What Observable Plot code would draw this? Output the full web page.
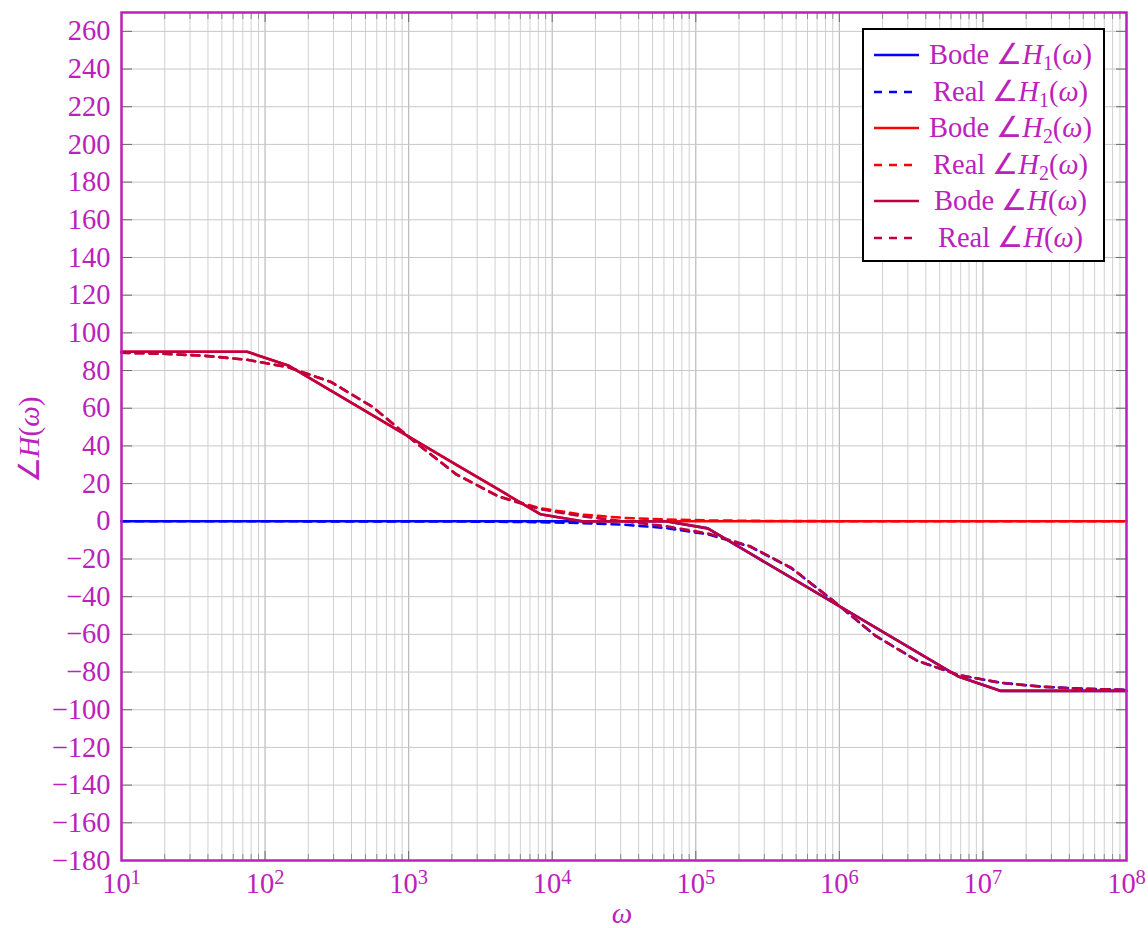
<!DOCTYPE html>
<html><head><meta charset="utf-8">
<script src="https://cdn.jsdelivr.net/npm/d3@7"></script>
<script src="https://cdn.jsdelivr.net/npm/@observablehq/plot@0.6"></script>
<style>
body{margin:0;background:#fff;}
#wrap{position:relative;width:1148px;height:928px;font-family:"Liberation Serif","Times New Roman",serif;color:#bb22bb;}
#legend{position:absolute;left:862px;top:28px;width:243px;height:234px;box-sizing:border-box;border:2.5px solid #000;background:#fff;}
.row{position:absolute;left:0;width:100%;height:36px;}
.row svg{position:absolute;left:8px;top:0;}
.row .txt{position:absolute;left:58px;right:4px;top:0;height:36px;line-height:36px;text-align:center;font-size:28.5px;white-space:nowrap;}
sub{font-size:0.7em;vertical-align:-0.28em;line-height:0;}
.lab{position:absolute;font-size:29px;white-space:nowrap;}
</style></head><body><div id="wrap"></div>
<script>
// sample frequencies (rad/s)
const omega = [10, 19.57, 38.31, 74.99, 146.8, 287.3, 562.3, 1101, 2154, 4217, 8254, 16160, 31620, 61900, 121200, 237100, 464200, 908500, 1778000, 3481000, 6813000, 13340000, 26100000, 51090000, 100000000];
// phase values (degrees)
const bodeH1 = [0,0,0,0,0,0,0,0,0,0,0,0,0,0,-3.75,-16.9,-30,-43.1,-56.25,-69.4,-82.5,-90,-90,-90,-90];
const realH1 = [0,0,0,0,-0.01,-0.02,-0.03,-0.06,-0.12,-0.24,-0.47,-0.93,-1.81,-3.54,-6.91,-13.34,-24.9,-42.25,-60.65,-73.97,-81.65,-85.71,-87.81,-88.88,-89.43];
const bodeH2 = [90,90,90,90,82.5,69.4,56.25,43.1,30,16.9,3.75,0,0,0,0,0,0,0,0,0,0,0,0,0,0];
const realH2 = [89.43,88.88,87.81,85.71,81.65,73.97,60.65,42.25,24.9,13.34,6.91,3.54,1.81,0.93,0.47,0.24,0.12,0.06,0.03,0.02,0.01,0,0,0,0];
const bodeH = [90,90,90,90,82.5,69.4,56.25,43.1,30,16.9,3.75,0,0,0,-3.75,-16.9,-30,-43.1,-56.25,-69.4,-82.5,-90,-90,-90,-90];
const realH = [89.43,88.88,87.81,85.71,81.64,73.95,60.62,42.19,24.78,13.1,6.44,2.61,0,-2.61,-6.44,-13.1,-24.78,-42.19,-60.62,-73.95,-81.64,-85.71,-87.81,-88.88,-89.43];
// ticks
const xTicks = [10, 100, 1000, 10000, 100000, 1000000, 10000000, 100000000];
const yTicks = [-180,-160,-140,-120,-100,-80,-60,-40,-20,0,20,40,60,80,100,120,140,160,180,200,220,240,260];
// series styling / legend
const seriesNames = ["Bode", "Real", "Bode", "Real", "Bode", "Real"];
const seriesSubs = ["1", "1", "2", "2", "", ""];
const seriesColors = ["#0000ff", "#0000ff", "#ff0000", "#ff0000", "#bf0040", "#bf0040"];
const seriesDashed = [false, true, false, true, false, true];
const seriesValues = [bodeH1, realH1, bodeH2, realH2, bodeH, realH];

const AXIS = "#bb22bb";
const minorTicks = [];
for (let i = 0; i < xTicks.length - 1; i++) for (let m = 2; m <= 9; m++) minorTicks.push(m * xTicks[i]);

const lineMarks = seriesValues.map((vals, i) => {
  const data = omega.map((w, j) => ({w, v: vals[j]}));
  return Plot.line(data, {x: "w", y: "v", stroke: seriesColors[i], strokeWidth: 2.6,
    strokeDasharray: seriesDashed[i] ? "8,6" : null, strokeLinejoin: "round"});
});

const tickOpts = (size, color) => ({tickSize: size, stroke: color, fill: "none", label: null});

const plot = Plot.plot({
  width: 1148, height: 928,
  marginLeft: 121, marginRight: 22, marginTop: 12, marginBottom: 68,
  style: {fontFamily: '"Liberation Serif","Times New Roman",serif', color: AXIS, background: "#fff"},
  x: {type: "log", domain: [10, 1e8], axis: null},
  y: {domain: [-180, 270], axis: null},
  marks: [
    Plot.gridX(minorTicks, {stroke: "#d0d0d0", strokeOpacity: 1, strokeWidth: 1}),
    Plot.gridX(xTicks, {stroke: "#bababa", strokeOpacity: 1, strokeWidth: 1.2}),
    Plot.gridY(yTicks, {stroke: "#c8c8c8", strokeOpacity: 1, strokeWidth: 1}),
    Plot.axisX(minorTicks, {anchor: "top", frameAnchor: "bottom", ...tickOpts(7, "#8a8a8a")}),
    Plot.axisX(minorTicks, {anchor: "bottom", frameAnchor: "top", ...tickOpts(7, "#8a8a8a")}),
    Plot.axisX(xTicks, {anchor: "top", frameAnchor: "bottom", ...tickOpts(10, "#6a6a6a")}),
    Plot.axisX(xTicks, {anchor: "bottom", frameAnchor: "top", ...tickOpts(10, "#6a6a6a")}),
    Plot.axisY(yTicks, {anchor: "right", frameAnchor: "left", ...tickOpts(10, "#6a6a6a")}),
    Plot.axisY(yTicks, {anchor: "left", frameAnchor: "right", ...tickOpts(10, "#6a6a6a")}),
    ...lineMarks,
    Plot.frame({stroke: AXIS, strokeWidth: 2.5}),
    Plot.axisY(yTicks, {anchor: "left", tickSize: 0, tickPadding: 11, fontSize: 28.5, fill: AXIS, label: null,
      tickFormat: d => d < 0 ? "\u2212" + (-d) : String(d)}),
    Plot.axisX(xTicks, {anchor: "bottom", tickSize: 0, tickPadding: 12, fontSize: 28.5, fill: AXIS, label: null,
      tickFormat: d => "10|" + Math.round(Math.log10(d))})
  ]
});

// superscript exponents on x tick labels
d3.select(plot).selectAll("text").each(function () {
  const t = this.textContent;
  if (!/^10\|\d$/.test(t)) return;
  const parts = t.split("|");
  const s = d3.select(this);
  s.text(null);
  s.append("tspan").text(parts[0]);
  s.append("tspan").attr("dy", "-0.45em").attr("font-size", "0.72em").text(parts[1]);
});

const wrap = document.getElementById("wrap");
wrap.appendChild(plot);

// axis labels
const yl = document.createElement("div");
yl.className = "lab";
yl.style.left = "29px"; yl.style.top = "440px";
yl.style.transform = "translate(-50%,-50%) rotate(-90deg)";
yl.innerHTML = "\u2220<i>H</i>(<i>\u03c9</i>)";
wrap.appendChild(yl);

const xl = document.createElement("div");
xl.className = "lab";
xl.style.left = "622px"; xl.style.top = "913px";
xl.style.transform = "translate(-50%,-50%)";
xl.innerHTML = "<i>\u03c9</i>";
wrap.appendChild(xl);

// legend
const leg = document.createElement("div");
leg.id = "legend";
seriesNames.forEach((name, i) => {
  const row = document.createElement("div");
  row.className = "row";
  row.style.top = (7 + i * 36.6) + "px";
  const sub = seriesSubs[i] ? "<sub>" + seriesSubs[i] + "</sub>" : "";
  row.innerHTML = `<svg width="50" height="36"><line x1="2" x2="47" y1="18" y2="18" stroke="${seriesColors[i]}" stroke-width="2.6" ${seriesDashed[i] ? 'stroke-dasharray="8,7"' : ""}/></svg>` +
    `<div class="txt">${name} \u2220<i>H</i>${sub}(<i>\u03c9</i>)</div>`;
  leg.appendChild(row);
});
wrap.appendChild(leg);
</script>
</body></html>
